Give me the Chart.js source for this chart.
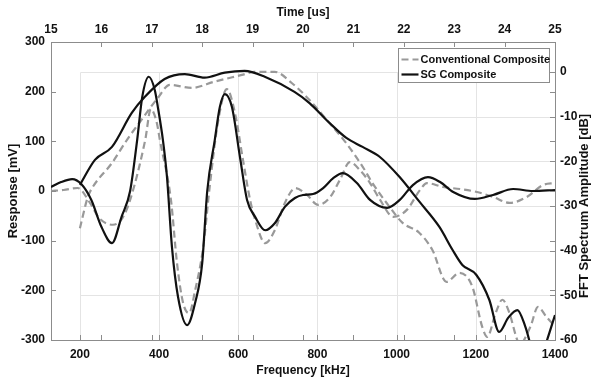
<!DOCTYPE html>
<html>
<head>
<meta charset="utf-8">
<script src="https://cdn.jsdelivr.net/npm/chart.js@4.4.1/dist/chart.umd.min.js"></script>
<style>
  html, body { margin: 0; padding: 0; background: #fff; }
  #wrap { width: 591px; height: 382px; }
</style>
</head>
<body>
<div id="wrap"><canvas id="chart" width="591" height="382"></canvas></div>
<script>
// time signals: time [us] on the top axis, response [mV] on the left axis
var sgTime = [15.0, 15.2, 15.42, 15.6, 15.8, 16.0, 16.21, 16.4, 16.57, 16.71, 16.81, 16.94, 17.06, 17.12, 17.22, 17.3, 17.4, 17.52, 17.7, 17.86, 18.0, 18.1, 18.25, 18.35, 18.45, 18.59, 18.75, 18.89, 19.05, 19.25, 19.44, 19.64, 19.84, 20.0, 20.2, 20.4, 20.6, 20.79, 21.07, 21.33, 21.67, 21.92, 22.18, 22.48, 22.72, 22.98, 23.41, 23.77, 24.17, 24.56, 25.0];
var sgResponse = [8, 18, 24, 14, -18, -72, -105, -52, 0, 103, 189, 230, 203, 169, 103, 30, -113, -213, -270, -225, -145, 0, 103, 169, 195, 169, 68, -18, -52, -79, -65, -32, -14, -8, -6, 6, 26, 36, 16, -18, -34, -18, 12, 28, 18, -2, -16, -8, 4, 0, 2];

var convTime = [15.0, 15.25, 15.53, 15.78, 15.95, 16.23, 16.42, 16.57, 16.87, 16.98, 17.1, 17.16, 17.38, 17.5, 17.62, 17.74, 17.86, 18.02, 18.15, 18.31, 18.49, 18.65, 18.81, 18.95, 19.05, 19.25, 19.44, 19.64, 19.85, 20.08, 20.3, 20.54, 20.73, 20.93, 21.13, 21.33, 21.53, 21.79, 22.06, 22.32, 22.46, 22.78, 23.12, 23.45, 23.77, 24.1, 24.44, 24.76, 25.0];
var convResponse = [0, 2, 6, -25, -54, -68, -54, -18, 103, 165, 137, 103, -18, -145, -225, -246, -200, -113, 10, 137, 205, 157, 62, -18, -58, -105, -79, -24, 6, -8, -28, -12, 22, 58, 42, 16, -18, -52, -38, 2, 16, 8, 4, -2, -12, -24, -12, 12, 16];

// FFT spectra: frequency [kHz] on the bottom axis, amplitude [dB] on the right axis
var sgFreq = [200, 238, 281, 331, 364, 414, 465, 515, 566, 616, 667, 742, 780, 830, 873, 914, 957, 1007, 1057, 1108, 1141, 1166, 1201, 1234, 1259, 1282, 1305, 1325, 1345, 1360, 1380, 1400];
var sgDb = [-25.3, -19.7, -16.8, -9.2, -5.6, -1.6, -0.5, -1.3, -0.2, 0.2, -1.1, -4.5, -7, -11.4, -14.8, -16.8, -19, -23.5, -29, -34.7, -39.8, -43.2, -45.4, -51, -58.2, -55, -53.3, -57, -63, -65, -60, -54.4];

var convFreq = [200, 220, 233, 281, 319, 356, 397, 427, 482, 540, 609, 641, 692, 735, 780, 823, 873, 914, 939, 982, 1015, 1057, 1090, 1126, 1158, 1191, 1216, 1229, 1250, 1267, 1285, 1302, 1310, 1338, 1357, 1378, 1400];
var convDb = [-35, -28, -25.7, -20.4, -15.2, -10.7, -5.8, -2.9, -3.6, -2.2, -0.7, 0, 0, -2.5, -6.3, -10.7, -16, -21.2, -24.9, -30.2, -33.8, -36, -39.8, -47, -45, -48, -57, -59.3, -54, -51, -54, -59.3, -61, -57, -52.6, -54.8, -57];

// tick labels of the four axes
var freqTicks = [200, 400, 600, 800, 1000, 1200, 1400];
var timeTicks = [15, 16, 17, 18, 19, 20, 21, 22, 23, 24, 25];
var responseTicks = [-300, -200, -100, 0, 100, 200, 300];
var dbTicks = [-60, -50, -40, -30, -20, -10, 0];

var seriesNames = ["Conventional Composite", "SG Composite"];
var dbTitle = "FFT Spectrum Amplitude [dB]";

function points(xs, ys) {
  return xs.map(function(v, i) { return { x: v, y: ys[i] }; });
}

function fixedTicks(values) {
  return function(scale) {
    scale.ticks = values.map(function(v) { return { value: v }; });
  };
}

// plain numbers, no thousands separator
function plain(v) { return String(v); }

var FONT = "'Liberation Sans', Arial, sans-serif";
var tickFont = { family: FONT, size: 12, weight: "bold" };
var titleFont = { family: FONT, size: 12, weight: "bold" };
var sideTitleFont = { family: FONT, size: 13, weight: "bold" };
var frameColor = "#8c8c8c";

// light grid only inside the box that starts at 200 kHz / 0 dB
var gridBox = {
  id: "gridBox",
  beforeDatasetsDraw: function(chart) {
    var ctx = chart.ctx, a = chart.chartArea;
    var sx = chart.scales.x, sy = chart.scales.y2;
    var left = Math.round(sx.getPixelForValue(freqTicks[0])) + 0.5;
    var top = Math.round(sy.getPixelForValue(0)) + 0.5;
    ctx.save();
    ctx.strokeStyle = "#e4e4e4";
    ctx.lineWidth = 1;
    ctx.beginPath();
    freqTicks.forEach(function(v) {
      var px = Math.round(sx.getPixelForValue(v)) + 0.5;
      if (px < a.right - 1) { ctx.moveTo(px, top); ctx.lineTo(px, a.bottom); }
    });
    dbTicks.forEach(function(v) {
      var py = Math.round(sy.getPixelForValue(v)) + 0.5;
      if (py < a.bottom - 1) { ctx.moveTo(left, py); ctx.lineTo(a.right, py); }
    });
    ctx.stroke();
    ctx.restore();
  },
  afterDatasetsDraw: function(chart) {
    // short inward tick marks, MATLAB style
    var ctx = chart.ctx, a = chart.chartArea, L = 5;
    var s = chart.scales;
    ctx.save();
    ctx.strokeStyle = frameColor;
    ctx.lineWidth = 1;
    ctx.beginPath();
    freqTicks.forEach(function(v) {
      var px = Math.round(s.x.getPixelForValue(v)) + 0.5;
      ctx.moveTo(px, a.bottom); ctx.lineTo(px, a.bottom - L);
    });
    timeTicks.forEach(function(v) {
      var px = Math.round(s.x2.getPixelForValue(v)) + 0.5;
      ctx.moveTo(px, a.top); ctx.lineTo(px, a.top + L);
      ctx.moveTo(px, a.bottom); ctx.lineTo(px, a.bottom - L);
    });
    responseTicks.forEach(function(v) {
      var py = Math.round(s.y.getPixelForValue(v)) + 0.5;
      ctx.moveTo(a.left, py); ctx.lineTo(a.left + L, py);
      ctx.moveTo(a.right, py); ctx.lineTo(a.right - L, py);
    });
    dbTicks.forEach(function(v) {
      var py = Math.round(s.y2.getPixelForValue(v)) + 0.5;
      ctx.moveTo(a.right, py); ctx.lineTo(a.right - L, py);
    });
    ctx.stroke();

    // legend box in the top right corner
    var w = 151, h = 34;
    var bx = Math.round(a.right - 6 - w) + 0.5, by = Math.round(a.top + 6) + 0.5;
    ctx.fillStyle = "#fff";
    ctx.fillRect(bx, by, w, h);
    ctx.strokeStyle = "#8c8c8c";
    ctx.strokeRect(bx, by, w, h);
    ctx.font = "bold 11px " + FONT;
    ctx.textBaseline = "middle";
    [2, 0].forEach(function(di, row) {
      var ds = chart.data.datasets[di];
      var cy = by + 11 + row * 15;
      ctx.save();
      ctx.strokeStyle = ds.borderColor;
      ctx.lineWidth = ds.borderWidth;
      ctx.setLineDash(ds.borderDash || []);
      ctx.beginPath();
      ctx.moveTo(bx + 3, cy); ctx.lineTo(bx + 20, cy);
      ctx.stroke();
      ctx.restore();
      ctx.fillStyle = "#111";
      ctx.fillText(ds.label, bx + 22, cy + 0.5);
    });

    // right axis title reads bottom-to-top like the left one
    ctx.save();
    ctx.translate(chart.width - 7, s.y2.getPixelForValue(-30));
    ctx.rotate(-Math.PI / 2);
    ctx.font = "bold 13px " + FONT;
    ctx.fillStyle = "#111";
    ctx.textAlign = "center";
    ctx.textBaseline = "middle";
    ctx.fillText(dbTitle, 0, 0);
    ctx.restore();
    ctx.restore();
  }
};

var black = "#111111";
var gray = "#999999";

new Chart(document.getElementById("chart").getContext("2d"), {
  type: "line",
  data: {
    datasets: [
      { label: seriesNames[1], data: points(sgFreq, sgDb), xAxisID: "x", yAxisID: "y2",
        borderColor: black, borderWidth: 2.2 },
      { label: seriesNames[1], data: points(sgTime, sgResponse), xAxisID: "x2", yAxisID: "y",
        borderColor: black, borderWidth: 2.2 },
      { label: seriesNames[0], data: points(convFreq, convDb), xAxisID: "x", yAxisID: "y2",
        borderColor: gray, borderWidth: 2.2, borderDash: [7, 4] },
      { label: seriesNames[0], data: points(convTime, convResponse), xAxisID: "x2", yAxisID: "y",
        borderColor: gray, borderWidth: 2.2, borderDash: [7, 4] }
    ]
  },
  options: {
    responsive: false,
    animation: false,
    devicePixelRatio: 1,
    layout: { padding: 0 },
    elements: {
      point: { radius: 0 },
      line: { cubicInterpolationMode: "monotone", fill: false }
    },
    plugins: { legend: { display: false }, tooltip: { enabled: false } },
    scales: {
      x: {
        type: "linear", position: "bottom", min: 127, max: 1400,
        afterBuildTicks: fixedTicks(freqTicks),
        afterFit: function(s) { s.height = 42; },
        grid: { drawOnChartArea: false, drawTicks: false },
        border: { display: true, color: frameColor },
        ticks: { padding: 7, color: "#111", font: tickFont, maxRotation: 0, callback: plain },
        title: { display: true, text: "Frequency [kHz]", color: "#111", font: titleFont, padding: { top: 0, bottom: 4 } }
      },
      x2: {
        type: "linear", position: "top", min: 15, max: 25,
        afterBuildTicks: fixedTicks(timeTicks),
        afterFit: function(s) { s.height = 42; },
        grid: { drawOnChartArea: false, drawTicks: false },
        border: { display: true, color: frameColor },
        ticks: { padding: 5, color: "#111", font: tickFont, maxRotation: 0, callback: plain },
        title: { display: true, text: "Time [us]", color: "#111", font: titleFont, padding: { top: 5, bottom: 0 } }
      },
      y: {
        type: "linear", position: "left", min: -300, max: 300,
        afterBuildTicks: fixedTicks(responseTicks),
        afterFit: function(s) { s.width = 51; },
        grid: { drawOnChartArea: false, drawTicks: false },
        border: { display: true, color: frameColor },
        ticks: { padding: 6, color: "#111", font: tickFont, callback: plain },
        title: { display: true, text: "Response [mV]", color: "#111", font: sideTitleFont, padding: { top: 6, bottom: 0 } }
      },
      y2: {
        type: "linear", position: "right", min: -60, max: 6.67,
        afterBuildTicks: fixedTicks(dbTicks),
        afterFit: function(s) { s.width = 36; },
        grid: { drawOnChartArea: false, drawTicks: false },
        border: { display: true, color: frameColor },
        ticks: { padding: 5, color: "#111", font: tickFont, callback: plain },
        title: { display: false }
      }
    }
  },
  plugins: [gridBox]
});
</script>
</body>
</html>
